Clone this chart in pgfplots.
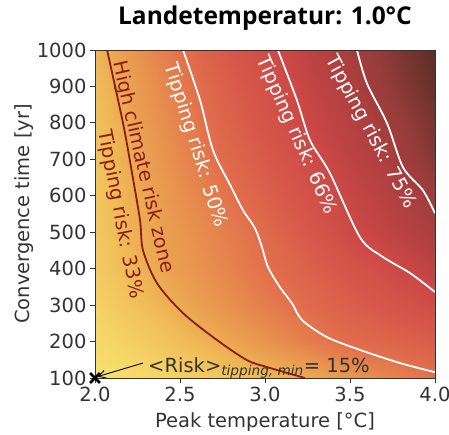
\documentclass[border=0pt]{standalone}
\usepackage{fontspec}
\setmainfont{DejaVu Sans}
\newfontfamily\titlefont{Open Sans}
\usepackage{pgfplots}
\pgfplotsset{compat=1.18}
\usetikzlibrary{arrows.meta}
\newcommand\fs{\fontsize{19.5}{23}\selectfont}
\definecolor{tickgray}{HTML}{333333}
\definecolor{riskred}{RGB}{140,28,24}

\pgfplotstableread{
x y z
2.00 100 15
2.25 100 18.6
2.50 100 22.3
2.75 100 25.9
3.00 100 29.6
3.25 100 33.3
3.50 100 38.6
3.75 100 43.8
4.00 100 49
2.00 200 19
2.25 200 23.8
2.50 200 28.6
2.75 200 33.5
3.00 200 39.7
3.25 200 45.8
3.50 200 50.8
3.75 200 53.4
4.00 200 56
2.00 300 22
2.25 300 27.9
2.50 300 33.7
2.75 300 39.8
3.00 300 45.9
3.25 300 51.3
3.50 300 55.6
3.75 300 59.8
4.00 300 64
2.00 400 24
2.25 400 31
2.50 400 37.3
2.75 400 43.3
3.00 400 49.3
3.25 400 54.5
3.50 400 59.6
3.75 400 64.8
4.00 400 69.4
2.00 500 25
2.25 500 32.5
2.50 500 38.8
2.75 500 45
3.00 500 51.4
3.25 500 58.1
3.50 500 64.9
3.75 500 69.6
4.00 500 73.8
2.00 600 25.8
2.25 600 33.3
2.50 600 40.6
2.75 600 47.9
3.00 600 54.6
3.25 600 61.1
3.50 600 67.1
3.75 600 71.5
4.00 600 75.9
2.00 700 26.4
2.25 700 34.6
2.50 700 42.8
2.75 700 50.8
3.00 700 57.3
3.25 700 63.9
3.50 700 69.3
3.75 700 74.2
4.00 700 79.2
2.00 800 27.2
2.25 800 36
2.50 800 44.7
2.75 800 52.8
3.00 800 59.7
3.25 800 66.4
3.50 800 71
3.75 800 75.6
4.00 800 80.6
2.00 900 28.7
2.25 900 37.7
2.50 900 46.7
2.75 900 54.5
3.00 900 61.5
3.25 900 67.8
3.50 900 72.8
3.75 900 77.8
4.00 900 82.8
2.00 1000 30.3
2.25 1000 39.8
2.50 1000 49.3
2.75 1000 56.7
3.00 1000 63.8
3.25 1000 69.4
3.50 1000 74.2
3.75 1000 79
4.00 1000 84
}\riskgrid

\begin{document}
\begin{tikzpicture}
\begin{axis}[
 width=340pt, height=328pt, scale only axis,
 xmin=2, xmax=4, ymin=100, ymax=1000,
 xtick={2,2.5,3,3.5,4}, ytick={100,200,...,1000},
 tick align=outside, xtick pos=bottom, ytick pos=left,
 major tick length=5pt,
 axis line style={tickgray, line width=0.8pt},
 every tick/.style={tickgray, line width=0.8pt},
 /pgf/number format/assume math mode=true,
 xticklabel style={font=\fs, text=tickgray, /pgf/number format/.cd, fixed, fixed zerofill, precision=1},
 yticklabel style={font=\fs, text=tickgray, /pgf/number format/1000 sep={}},
 xlabel={Peak temperature [°C]}, ylabel={Convergence time [yr]},
 label style={font=\fs, text=tickgray},
 xlabel style={at={(axis description cs:0.5,-0.1494)}, anchor=base},
 ylabel style={at={(axis description cs:-0.1912,0.5)}, anchor=base},
 title={Landetemperatur: 1.0°C},
 title style={font=\titlefont\bfseries\fontsize{24.5}{28}\selectfont, at={(axis description cs:0.5,1.06)}, anchor=base},
 colormap={risk}{rgb255(15pt)=(248,226,112) rgb255(22pt)=(245,210,100) rgb255(29pt)=(240,188,88) rgb255(33pt)=(236,172,82) rgb255(42pt)=(231,140,78) rgb255(50pt)=(225,110,76) rgb255(58pt)=(215,88,74) rgb255(66pt)=(203,72,70) rgb255(72pt)=(178,64,64) rgb255(77pt)=(150,60,58) rgb255(84pt)=(90,46,38)},
 point meta min=15, point meta max=84,
 clip=false,
 axis on top,
]
\addplot[surf, shader=interp, mesh/cols=9, mesh/rows=10, point meta=explicit] table[x=x, y=y, meta=z] {\riskgrid};

% contour 33%
\addplot[riskred, line width=1.8pt, smooth, tension=0.5] coordinates {
(3.235,100) (3.012,130) (2.894,149) (2.718,204) (2.518,278) (2.365,360) (2.282,451) (2.265,533) (2.215,670) (2.165,799) (2.071,1000)};
% contour 50%
\addplot[white, line width=1.8pt, smooth, tension=0.5] coordinates {
(2.518,1000) (2.618,862) (2.694,725) (2.80,625) (2.871,560) (2.941,511) (2.982,459) (3.018,404) (3.088,349) (3.159,305) (3.218,259) (3.365,212) (3.559,177) (3.794,141) (4.0,116)};
% contour 66%
\addplot[white, line width=1.8pt, smooth, tension=0.5] coordinates {
(3.076,1000) (3.188,862) (3.265,752) (3.382,662) (3.559,486) (3.694,432) (3.853,388) (4.0,336)};
% contour 75%
\addplot[white, line width=1.8pt, smooth, tension=0.5] coordinates {
(3.541,1000) (3.6,908) (3.718,799) (3.812,678) (3.929,615) (4.0,552)};

\node[rotate=-77, font=\fs, text=riskred, inner sep=0pt] at (axis cs:2.282,678) {High climate risk zone};
\node[rotate=-79, font=\fs, text=riskred, inner sep=0pt] at (axis cs:2.147,549) {Tipping risk: 33\%};
\node[rotate=-72.6, font=\fs, text=white, inner sep=0pt] at (axis cs:2.591,738) {Tipping risk: 50\%};
\node[rotate=-66, font=\fs, text=white, inner sep=0pt] at (axis cs:3.185,766) {Tipping risk: 66\%};
\node[rotate=-61.6, font=\fs, text=white, inner sep=0pt] at (axis cs:3.621,775) {Tipping risk: 75\%};

\draw[-{Straight Barb[length=7pt,width=8pt]}, line width=0.9pt, black] (axis cs:2.282,141) -- (axis cs:2.016,104);
\node[anchor=base west, font=\fs, text=tickgray, inner sep=0pt] at (axis cs:2.312,116) {<Risk>\textsubscript{\itshape tipping, min}= 15\%};

\addplot[only marks, mark=x, mark size=7pt, mark options={solid, line width=2.6pt, black}] coordinates {(2,100)};
\end{axis}
\pgfresetboundingbox
\path (current axis.south west) ++(-95pt,-56pt) rectangle ([shift={(14pt,50pt)}]current axis.north east);
\end{tikzpicture}
\end{document}
